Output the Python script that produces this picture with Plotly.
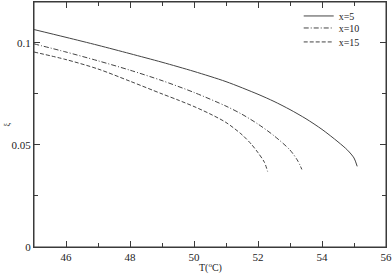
import plotly.graph_objects as go

# temperature (deg C) and xi values
t_x5 = [45, 46, 47, 48, 49, 50, 51, 52, 52.5, 53, 53.5, 54, 54.5, 54.8, 55.0, 55.1]
xi_x5 = [0.1065, 0.1027, 0.0988, 0.0947, 0.0905, 0.0860, 0.0810, 0.0748, 0.0713,
         0.0673, 0.0628, 0.0576, 0.0515, 0.0474, 0.0436, 0.0395]

t_x10 = [45, 46, 47, 48, 49, 50, 51, 51.5, 52, 52.5, 53, 53.25, 53.37]
xi_x10 = [0.0995, 0.0955, 0.0912, 0.0866, 0.0815, 0.0757, 0.0690, 0.0650, 0.0602,
          0.0545, 0.0475, 0.0420, 0.0380]

t_x15 = [45, 46, 47, 48, 49, 49.5, 50, 50.5, 51, 51.5, 51.8, 52.0, 52.2, 52.3]
xi_x15 = [0.0955, 0.0918, 0.0872, 0.0812, 0.0750, 0.0720, 0.0688, 0.0652, 0.0610,
          0.0550, 0.0502, 0.0462, 0.0415, 0.0370]

labels = ["x=5", "x=10", "x=15"]
dashes = ["solid", "5px,2px,1px,2px", "4px,2px"]
legend_ids = ["legend", "legend2", "legend3"]
legend_y = [0.943, 0.894, 0.837]

x_range = [45, 56]
y_range = [0, 0.12]

serif = "Liberation Serif, Times New Roman, serif"
ink = "#3a3a3a"

fig = go.Figure()
for t, xi, name, dash, lg in zip([t_x5, t_x10, t_x15], [xi_x5, xi_x10, xi_x15],
                                 labels, dashes, legend_ids):
    fig.add_trace(go.Scatter(x=t, y=xi, name=name, mode="lines", legend=lg,
                             line=dict(color="#444", width=1, dash=dash, shape="spline",
                                       smoothing=0.8)))

# invisible trace so the top/right frame axes get drawn
fig.add_trace(go.Scatter(x=x_range, y=y_range, xaxis="x2", yaxis="y2", mode="lines",
                         line=dict(width=0), opacity=0, showlegend=False, hoverinfo="skip"))

axis_common = dict(showline=True, linecolor=ink, linewidth=1,
                   ticks="inside", ticklen=6, tickcolor=ink, showgrid=False,
                   zeroline=False, automargin=False,
                   tickfont=dict(family=serif, size=11, color="#222"))
x_ticks = dict(range=x_range, tickvals=[46, 48, 50, 52, 54, 56],
               minor=dict(dtick=1, tick0=45, ticks="inside", ticklen=4, tickcolor=ink))
y_ticks = dict(range=y_range, tickvals=[0, 0.05, 0.1], ticktext=["0", "0.05", "0.1"],
               minor=dict(dtick=0.025, tick0=0, ticks="inside", ticklen=4, tickcolor=ink))

fig.add_annotation(text="ξ", x=-0.095, y=0.5, xref="paper", yref="paper",
                   textangle=-90, showarrow=False,
                   font=dict(family=serif, size=8, color="#222"))
fig.add_annotation(text="T(<sup>o</sup>C)", x=0.5, y=-0.05, xref="paper", yref="paper",
                   yanchor="top", showarrow=False,
                   font=dict(family=serif, size=10, color="#222"))

# plot frame
fig.add_shape(type="rect", xref="paper", yref="paper", x0=0, x1=1, y0=0, y1=1,
              line=dict(color=ink, width=1), layer="above")

leg_style = dict(x=0.752, xanchor="left", yanchor="middle", bgcolor="rgba(0,0,0,0)",
                 font=dict(family=serif, size=10, color="#222"), itemwidth=30)
fig.update_layout(
    width=392, height=274,
    margin=dict(l=34, r=6, t=2, b=27, autoexpand=False),
    paper_bgcolor="white", plot_bgcolor="white",
    showlegend=True,
    xaxis=dict(**x_ticks, **axis_common),
    yaxis=dict(**y_ticks, **axis_common),
    xaxis2=dict(overlaying="x", side="top", showticklabels=False, **x_ticks, **axis_common),
    yaxis2=dict(overlaying="y", side="right", showticklabels=False, **y_ticks, **axis_common),
    legend=dict(y=legend_y[0], **leg_style),
    legend2=dict(y=legend_y[1], **leg_style),
    legend3=dict(y=legend_y[2], **leg_style),
)

fig.write_html("out.html", config={"displayModeBar": False},
               post_script="document.body.style.margin='0';document.body.style.overflow='hidden';")
